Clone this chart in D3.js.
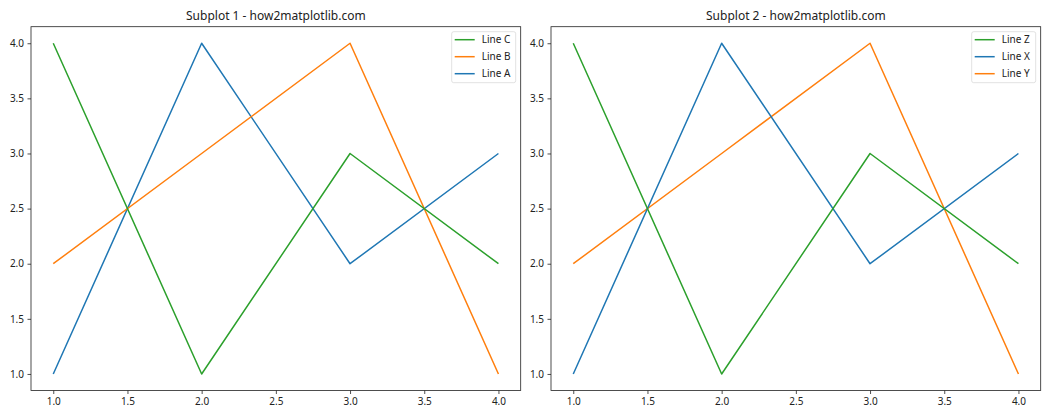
<!DOCTYPE html>
<html>
<head>
<meta charset="utf-8">
<script src="https://cdn.jsdelivr.net/npm/d3@7"></script>
<style>
html,body{margin:0;padding:0;background:#fff;}
svg{display:block;}
text{font-family:"Noto Sans","DejaVu Sans",sans-serif;fill:#222;}
</style>
</head>
<body>
<svg id="chart" width="1050" height="420"></svg>
<script>
const xValues = [1, 2, 3, 4];
const lineA = [1, 4, 2, 3];
const lineB = [2, 3, 4, 1];
const lineC = [4, 1, 3, 2];
const xTicks = [1.0, 1.5, 2.0, 2.5, 3.0, 3.5, 4.0];
const yTicks = [1.0, 1.5, 2.0, 2.5, 3.0, 3.5, 4.0];
const titles = ["Subplot 1 - how2matplotlib.com", "Subplot 2 - how2matplotlib.com"];

const blue = "#1f77b4", orange = "#ff7f0e", green = "#2ca02c";

// legend order as in the reference
const panels = [
  {title: titles[0], left: 31, right: 520.7,
   series: [{name: "Line C", values: lineC, color: green},
            {name: "Line B", values: lineB, color: orange},
            {name: "Line A", values: lineA, color: blue}]},
  {title: titles[1], left: 551, right: 1040.7,
   series: [{name: "Line Z", values: lineC, color: green},
            {name: "Line X", values: lineA, color: blue},
            {name: "Line Y", values: lineB, color: orange}]}
];

const plotTop = 26.7, plotBottom = 390.5;
const svg = d3.select("#chart");

panels.forEach(p => {
  const x = d3.scaleLinear().domain([0.85, 4.15]).range([p.left, p.right]);
  const y = d3.scaleLinear().domain([0.85, 4.15]).range([plotBottom, plotTop]);
  const g = svg.append("g");

  const line = d3.line().x((d, i) => x(xValues[i])).y(d => y(d));
  [...p.series].reverse().forEach(s => {
    g.append("path").datum(s.values).attr("d", line)
      .attr("fill", "none").attr("stroke", s.color).attr("stroke-width", 1.5)
      .attr("stroke-linejoin", "round").attr("stroke-linecap", "butt");
  });

  const xAxis = d3.axisBottom(x).tickValues(xTicks).tickFormat(d3.format(".1f")).tickSizeOuter(0).tickSize(3.5).tickPadding(3.5);
  const yAxis = d3.axisLeft(y).tickValues(yTicks).tickFormat(d3.format(".1f")).tickSizeOuter(0).tickSize(3.5).tickPadding(3.5);
  const gx = g.append("g").attr("transform", `translate(0,${plotBottom})`).call(xAxis);
  const gy = g.append("g").attr("transform", `translate(${p.left},0)`).call(yAxis);
  [gx, gy].forEach(a => {
    a.select(".domain").remove();
    a.selectAll(".tick line").attr("stroke", "#222").attr("stroke-width", 0.8);
    a.selectAll(".tick text").attr("font-size", 10).attr("fill", "#222")
      .style("font-family", '"Noto Sans","DejaVu Sans",sans-serif');
  });

  g.append("rect").attr("x", p.left).attr("y", plotTop)
    .attr("width", p.right - p.left).attr("height", plotBottom - plotTop)
    .attr("fill", "none").attr("stroke", "#222").attr("stroke-width", 0.8);

  g.append("text").attr("x", (p.left + p.right) / 2).attr("y", plotTop - 7)
    .attr("text-anchor", "middle").attr("font-size", 12).text(p.title);

  const lw = 64, lh = 51;
  const lx = p.right - 5 - lw, ly = plotTop + 5;
  const lg = g.append("g").attr("transform", `translate(${lx},${ly})`);
  lg.append("rect").attr("width", lw).attr("height", lh).attr("rx", 2)
    .attr("fill", "#fff").attr("fill-opacity", 0.8)
    .attr("stroke", "#d9d9d9").attr("stroke-width", 0.8);
  p.series.forEach((s, i) => {
    const cy = 8 + i * 17;
    lg.append("line").attr("x1", 3).attr("x2", 23).attr("y1", cy).attr("y2", cy)
      .attr("stroke", s.color).attr("stroke-width", 1.5);
    lg.append("text").attr("x", 30).attr("y", cy).attr("dy", "0.35em")
      .attr("font-size", 10).text(s.name);
  });
});
</script>
</body>
</html>
